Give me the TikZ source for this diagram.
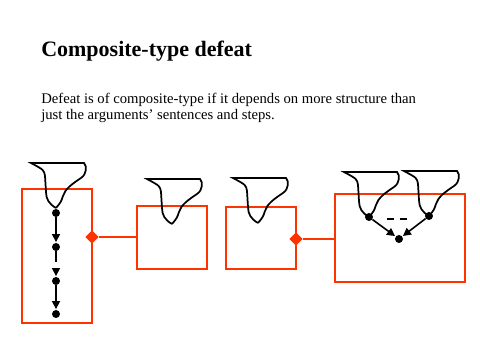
\documentclass[tikz,border=0pt]{standalone}
\usepackage{fontspec}
\setmainfont{Liberation Serif}
\usetikzlibrary{arrows.meta, positioning, shapes.geometric}
\definecolor{dred}{RGB}{255,51,0}

\begin{document}
\begin{tikzpicture}[x=0.75pt, y=-0.75pt,
  frame/.style={draw=dred, line width=1.5pt, inner sep=0pt},
  dot/.style={circle, fill=black, inner sep=0pt, minimum size=6pt},
  hook/.style={diamond, fill=dred, inner sep=0pt, minimum size=10pt},
  link/.style={dred, line width=1.5pt},
  arr/.style={-{Triangle[length=6pt,width=6pt]}, line width=1.2pt, shorten >=0.5pt},
  funnel/.pic={
    \draw[line width=1.3pt] (0,0) .. controls (-7,-4) and (-10,-9) .. (-10,-16)
      -- (-11,-32) .. controls (-12,-38) .. (-25,-45) -- (28,-45)
      .. controls (31,-42) and (31,-34) .. (25,-30)
      .. controls (16,-24) and (9,-19) .. (7,-12) .. controls (5,-6) .. (0,0);
  }
]
\useasboundingbox (0,0) rectangle (480,360);

\node[anchor=base west, inner sep=0pt, font=\fontsize{16.5}{20}\selectfont\bfseries] (title) at (41,57) {Composite-type defeat};
\node[anchor=north west, align=left, inner sep=0pt, font=\fontsize{11}{11.8}\selectfont] (text) at (41,93)
  {Defeat is of composite-type if it depends on more structure than\\just the arguments' sentences and steps.};

% boxes
\node[frame, minimum width=52.5pt, minimum height=100.5pt] (b1) at (57,256) {};
\node[frame, minimum width=52.5pt, minimum height=47pt] (b2) at (172,237.5) {};
\node[frame, minimum width=52.5pt, minimum height=46.5pt] (b3) at (261,238) {};
\node[frame, minimum width=97.5pt, minimum height=66pt] (b4) at (400,238) {};

% first box: chain of steps
\pic at (56,208) {funnel};
\node[dot] (s1) at (56,213) {};
\node[dot] (s2) at (56,247) {};
\node[dot] (s3) at (56,281) {};
\node[dot] (s4) at (56,314) {};
\draw[arr] (s1) -- (s2);
\draw[arr, dash pattern=on 8pt off 5pt] (s2) -- (s3);
\draw[arr] (s3) -- (s4);

% second and third box
\pic at (172,224) {funnel};
\pic at (258,223) {funnel};

% fourth box: two arguments joined
\pic at (369,217) {funnel};
\pic at (429,216) {funnel};
\node[dot] (l) at (369,217) {};
\node[dot] (r) at (429,216) {};
\node[dot] (m) at (399,239) {};
\draw[arr] (l) -- (m);
\draw[arr] (r) -- (m);
\coordinate (g1) at (387,219);
\coordinate (g2) at (408,219);
\draw[line width=1.2pt, dash pattern=on 5.5pt off 4pt] (g1) -- (g2);

% defeat links
\node[hook] (d1) at (92,237) {};
\node[hook] (d2) at (296,239) {};
\draw[link] (d1) -- (b2.west |- d1);
\draw[link] (d2) -- (b4.west |- d2);
\end{tikzpicture}
\end{document}
